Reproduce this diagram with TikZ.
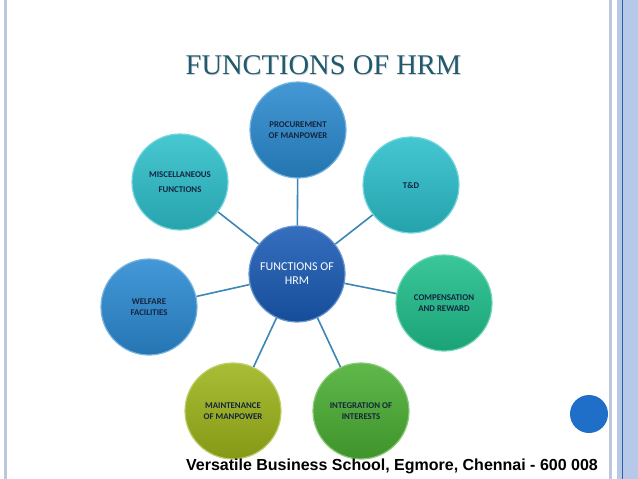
\documentclass[tikz,border=0pt]{standalone}
\usepackage{fontspec}
\setmainfont{Liberation Serif}
\newfontfamily\calibri{Carlito}
\newfontfamily\arial{Liberation Sans}
\definecolor{titleteal}{HTML}{1F5A6E}
\definecolor{navytext}{HTML}{15243F}
\definecolor{linkblue}{HTML}{3A86B6}
\definecolor{frameblue}{HTML}{B6C9E8}
\definecolor{framegray}{HTML}{BCC7DD}
\definecolor{frameline}{HTML}{2F5FA8}
\definecolor{dotblue}{HTML}{1F6FC8}
\definecolor{cHub}{HTML}{1A5BB5}
\definecolor{cProc}{HTML}{2A8ACF}
\definecolor{cTD}{HTML}{2BBFCB}
\definecolor{cComp}{HTML}{1FBF8C}
\definecolor{cInteg}{HTML}{4AAE32}
\definecolor{cMaint}{HTML}{9DB41A}
\definecolor{cWelf}{HTML}{2B8AD2}
\definecolor{cMisc}{HTML}{2EC0CB}
\begin{document}
\begin{tikzpicture}[x=1pt,y=-1pt,
    bubble/.style={circle, minimum size=96pt, inner sep=0pt, align=center,
      font=\calibri\bfseries\fontsize{8.8}{10.5}\selectfont, text=navytext,
      draw=#1!65!white, line width=1.2pt, top color=#1!88!white, bottom color=#1!85!black},
    link/.style={draw=linkblue, line width=1.6pt}]
    \useasboundingbox (0,0) rectangle (638,479);
    % Frame
    \fill[framegray] (4,0) rectangle (7,479);
    \fill[framegray] (609,0) rectangle (612,479);
    \fill[frameblue] (617,0) rectangle (638,479);
    \fill[frameline] (621.5,0) rectangle (623,479);
    % Title
    \node[text=black!18] at (324.2,66.2) {\fontsize{28.5}{31}\selectfont FUNCTIONS OF HRM};
    \node[text=titleteal] (title) at (323.5,65) {\fontsize{28.5}{31}\selectfont FUNCTIONS OF HRM};
    % Bubbles
    \node[bubble=cHub, text=white, font=\calibri\fontsize{12}{14}\selectfont] (hub) at (297,274) {FUNCTIONS OF\\HRM};
    \node[bubble=cProc] (proc) at (298,130) {PROCUREMENT\\OF MANPOWER};
    \node[bubble=cTD] (td) at (411,185) {T\&D};
    \node[bubble=cComp] (comp) at (444,303) {COMPENSATION\\AND REWARD};
    \node[bubble=cInteg] (integ) at (361,411) {INTEGRATION OF\\INTERESTS};
    \node[bubble=cMaint] (maint) at (233,411) {MAINTENANCE\\OF MANPOWER};
    \node[bubble=cWelf] (welf) at (149,307) {WELFARE\\FACILITIES};
    \node[bubble=cMisc] (misc) at (180,182) {MISCELLANEOUS\\[4pt]FUNCTIONS};
    % Links
    \foreach \n in {proc,td,comp,integ,maint,welf,misc}
      \draw[link] (hub) -- (\n);
    % Footer
    \fill[dotblue] (589,414) circle (19);
    \node (school) at (392,466) {\arial\bfseries\fontsize{16}{18}\selectfont Versatile Business School, Egmore, Chennai - 600 008};
\end{tikzpicture}
\end{document}
